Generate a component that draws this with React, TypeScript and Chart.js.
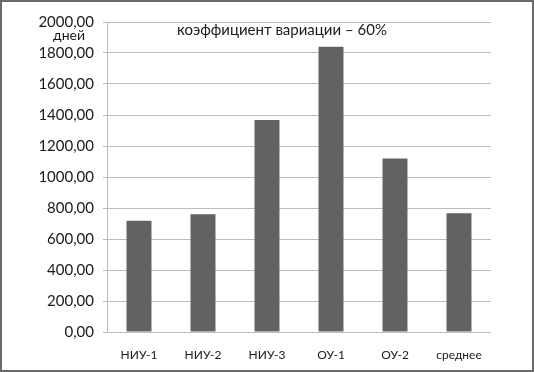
import React, { useEffect, useRef } from "react";
import { Chart, registerables } from "chart.js";

Chart.register(...registerables);

const categories = ["НИУ-1", "НИУ-2", "НИУ-3", "ОУ-1", "ОУ-2", "среднее"];
const values = [718, 759, 1368, 1841, 1120, 766];
const yMin = 0;
const yMax = 2000;
const yStep = 200;
const noteText = "коэффициент вариации – 60%";
const unitText = "дней";

const FONT = "Lato, 'Open Sans', sans-serif";

export default function App() {
  const ref = useRef<HTMLCanvasElement | null>(null);

  useEffect(() => {
    if (!ref.current) return;
    const textPlugin = {
      id: "notes",
      afterDraw(chart: any) {
        const ctx = chart.ctx;
        ctx.save();
        ctx.fillStyle = "#1a1a1a";
        ctx.textBaseline = "middle";
        ctx.textAlign = "center";
        ctx.font = `15px ${FONT}`;
        ctx.fillText(noteText, 280, 28);
        ctx.font = `14px ${FONT}`;
        ctx.fillText(unitText, 67, 33);
        ctx.restore();
      },
    };
    const chart = new Chart(ref.current, {
      type: "bar",
      data: {
        labels: categories,
        datasets: [
          {
            data: values,
            backgroundColor: "#626262",
            borderWidth: 0,
            barPercentage: 0.39,
            categoryPercentage: 1,
          },
        ],
      },
      options: {
        animation: false,
        responsive: false,
        maintainAspectRatio: false,
        layout: { padding: { top: 20, right: 41, left: 0, bottom: 0 } },
        plugins: {
          legend: { display: false },
          tooltip: { enabled: false },
          title: { display: false },
        },
        scales: {
          x: {
            grid: { display: false },
            border: { display: false },
            ticks: {
              color: "#1a1a1a",
              font: { family: FONT, size: 12 },
              padding: 8,
              maxRotation: 0,
            },
            afterFit(scale: any) {
              scale.height = 38;
            },
          },
          y: {
            min: yMin,
            max: yMax,
            grid: {
              color: "#bdbdbd",
              lineWidth: 1,
              tickLength: 4,
              drawTicks: true,
            },
            border: { display: true, color: "#bdbdbd" },
            ticks: {
              stepSize: yStep,
              color: "#1a1a1a",
              font: { family: FONT, size: 15 },
              padding: 9,
              callback: (v: any) => Number(v).toFixed(2).replace(".", ","),
            },
            afterFit(scale: any) {
              scale.width = 105;
            },
          },
        },
      },
      plugins: [textPlugin],
    });
    return () => chart.destroy();
  }, []);

  return (
    <div
      style={{
        position: "fixed",
        left: 0,
        top: 0,
        width: 534,
        height: 372,
        boxSizing: "border-box",
        border: "2px solid #6a6a6a",
        background: "#fff",
      }}
    >
      <canvas ref={ref} width={530} height={368} style={{ display: "block" }} />
    </div>
  );
}
